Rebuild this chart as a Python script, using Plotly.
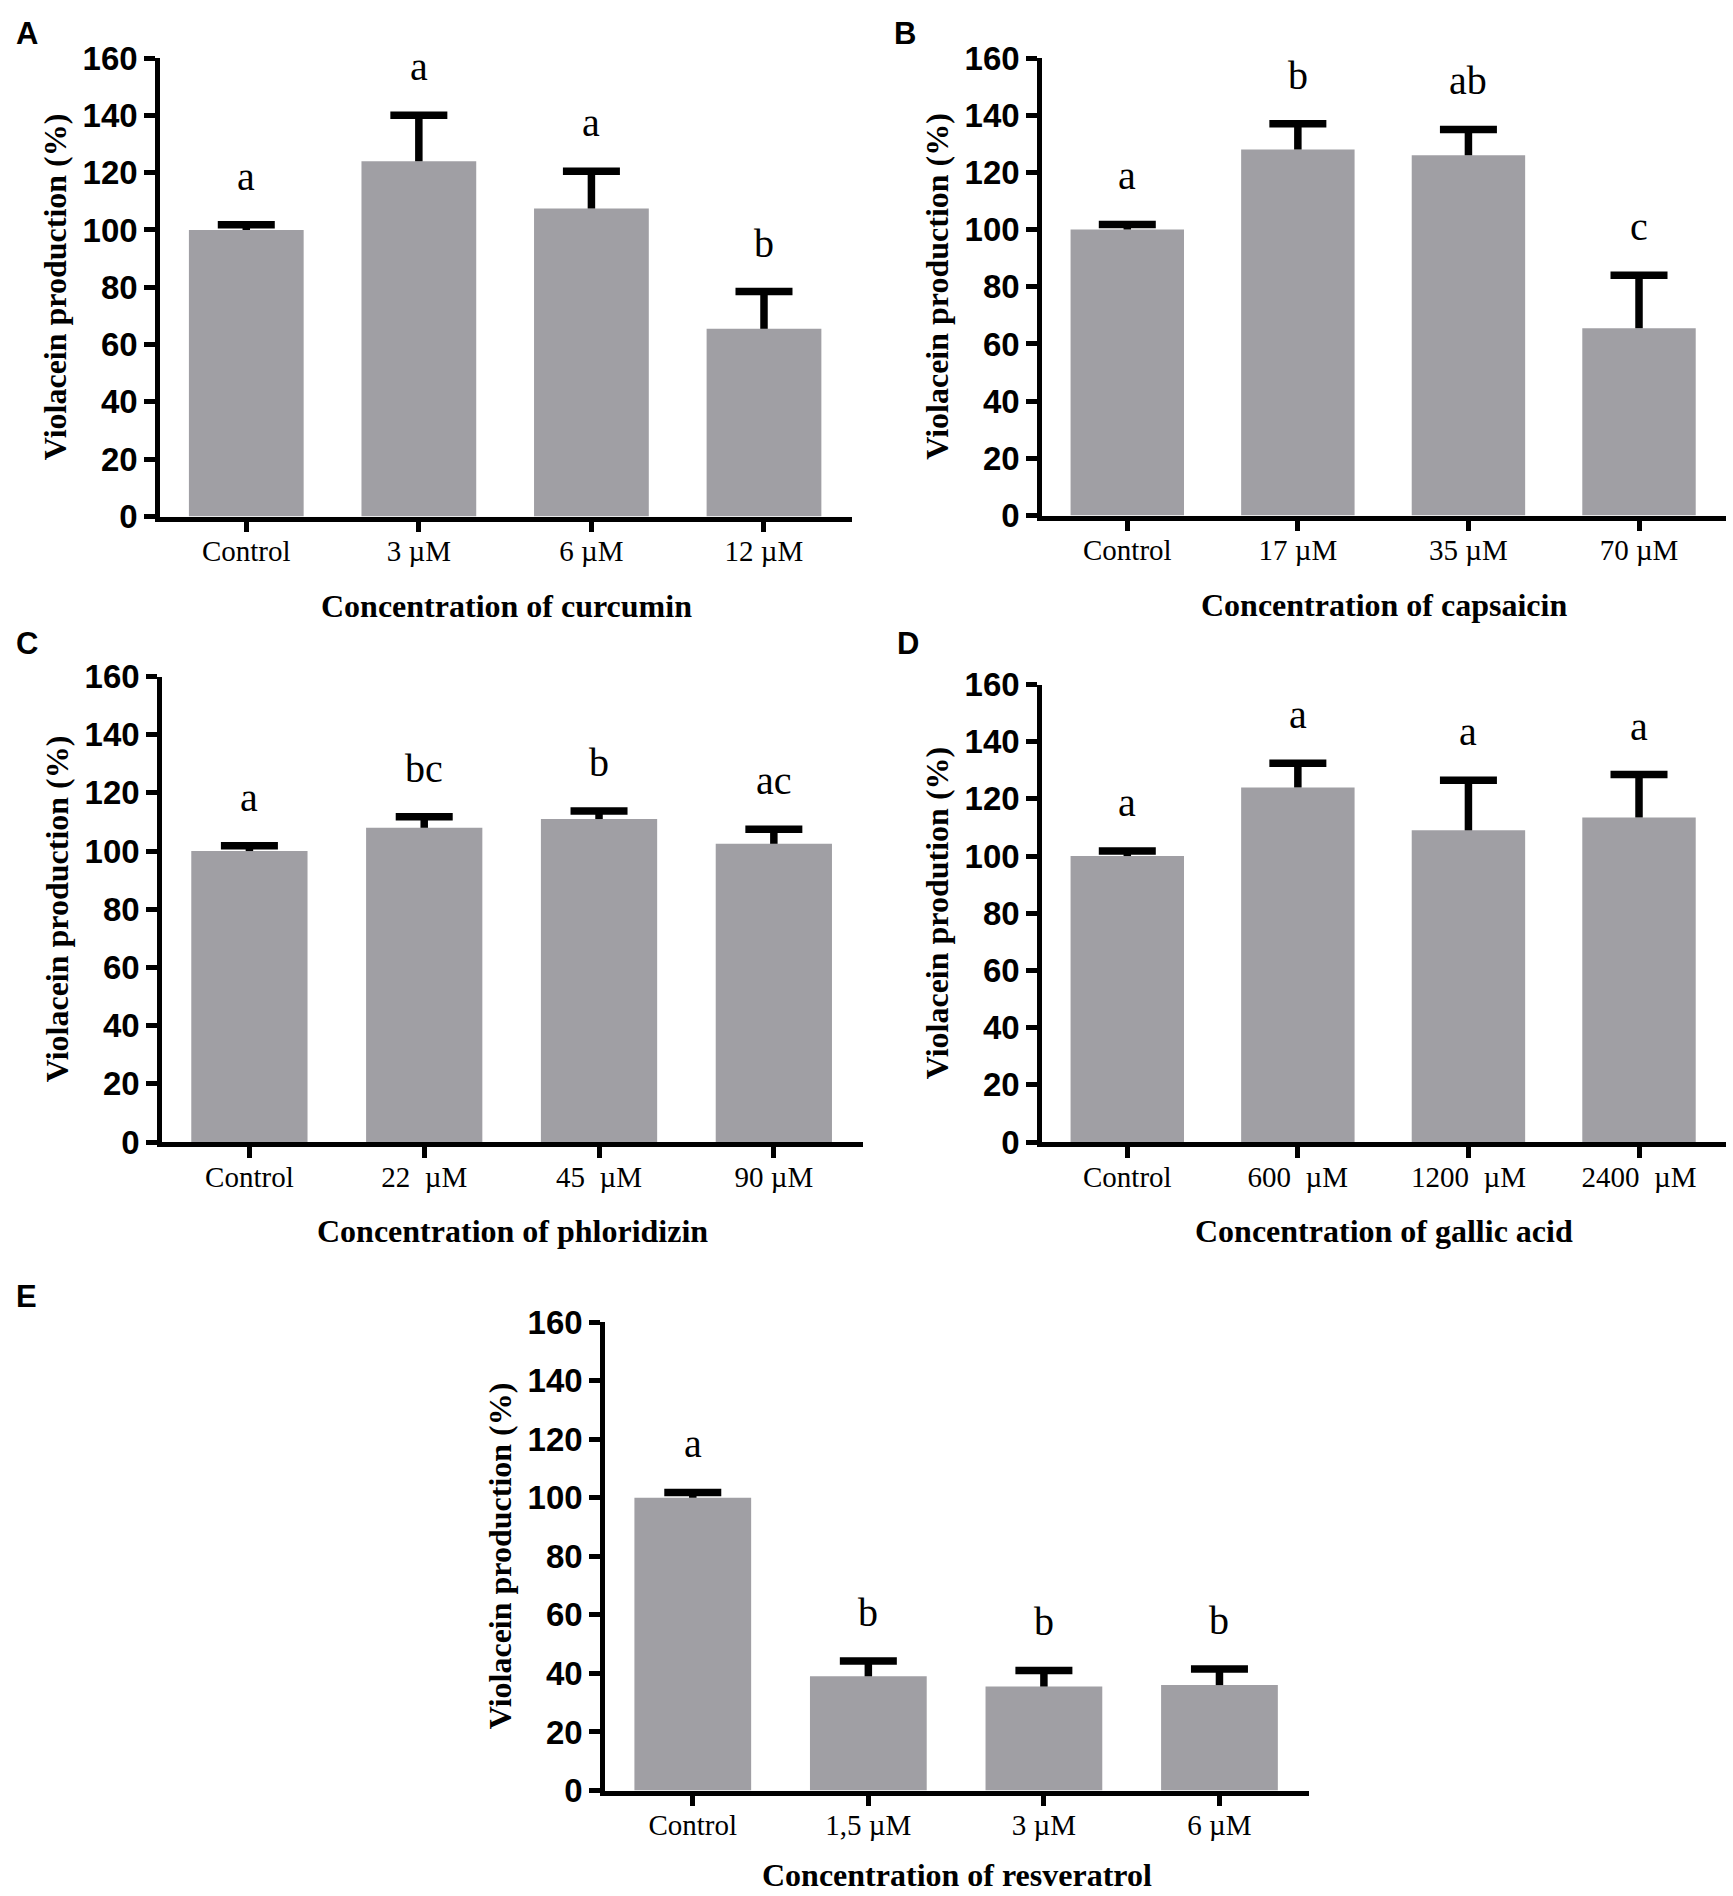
import plotly.graph_objects as go

# ---------------- data ----------------
cats_a = ["Control", "3 µM", "6 µM", "12 µM"]
vals_a = [100, 124, 107.5, 65.5]
errs_a = [1.8, 16, 13, 13]
lets_a = ["a", "a", "a", "b"]

cats_b = ["Control", "17 µM", "35 µM", "70 µM"]
vals_b = [100, 128, 126, 65.5]
errs_b = [1.8, 9, 9, 18.5]
lets_b = ["a", "b", "ab", "c"]

cats_c = ["Control", "22\u00a0 µM", "45\u00a0 µM", "90 µM"]
vals_c = [100, 108, 111, 102.5]
errs_c = [1.8, 3.8, 2.8, 5]
lets_c = ["a", "bc", "b", "ac"]

cats_d = ["Control", "600\u00a0 µM", "1200\u00a0 µM", "2400\u00a0 µM"]
vals_d = [100, 124, 109, 113.5]
errs_d = [1.8, 8.5, 17.5, 15]
lets_d = ["a", "a", "a", "a"]

cats_e = ["Control", "1,5 µM", "3 µM", "6 µM"]
vals_e = [100, 39, 35.5, 36]
errs_e = [1.8, 5.2, 5.5, 5.5]
lets_e = ["a", "b", "b", "b"]

ytitle = "Violacein production (%)"
ytitle_d = "Violacein prodution (%)"
xtitles = ["Concentration of curcumin", "Concentration of capsaicin",
           "Concentration of phloridizin", "Concentration of gallic acid",
           "Concentration of resveratrol"]
panel_tags = ["A", "B", "C", "D", "E"]

# ---------------- layout geometry (pixels) ----------------
W, H = 1733, 1896
boxes = [  # x0, x1, ytop, ybot of each plot area
    (160, 852, 58, 516.5),
    (1042, 1726, 58, 515.5),
    (162, 863, 676.5, 1142),
    (1042, 1726, 684.5, 1142),
    (605, 1309, 1322, 1790.5),
]
tag_pos = [(26.5, 33.5), (905, 34), (27, 644), (908, 644), (26, 1296)]

BAR = "#A09FA4"
SERIF = "Liberation Serif, Times New Roman, serif"
SANS = "Liberation Sans, Arial, sans-serif"
CAP_PX = 57  # cap length in pixels

panels = [
    (cats_a, vals_a, errs_a, lets_a, ytitle),
    (cats_b, vals_b, errs_b, lets_b, ytitle),
    (cats_c, vals_c, errs_c, lets_c, ytitle),
    (cats_d, vals_d, errs_d, lets_d, ytitle_d),
    (cats_e, vals_e, errs_e, lets_e, ytitle),
]

fig = go.Figure()
annotations = []
layout = {}

for i, ((cats, vals, errs, lets, yt), (x0, x1, yt_px, yb_px)) in enumerate(zip(panels, boxes)):
    n = i + 1
    xa = "x" if n == 1 else f"x{n}"
    ya = "y" if n == 1 else f"y{n}"
    xs = list(range(len(cats)))
    tops = [v + e for v, e in zip(vals, errs)]

    fig.add_trace(go.Bar(
        x=xs, y=vals, width=0.665, marker=dict(color=BAR, line=dict(width=0)),
        error_y=dict(type="data", array=errs, arrayminus=[0] * len(errs), symmetric=False,
                     thickness=7.5, width=0, color="black"),
        xaxis=xa, yaxis=ya, showlegend=False, hoverinfo="skip"))
    # caps of the error bars (line-ew marker length = 1.4 * size)
    fig.add_trace(go.Scatter(
        x=xs, y=tops, mode="markers",
        marker=dict(symbol="line-ew", size=CAP_PX / 1.4, color="black",
                    line=dict(width=7.5, color="black")),
        xaxis=xa, yaxis=ya, showlegend=False, hoverinfo="skip", cliponaxis=False))

    layout["xaxis" if n == 1 else f"xaxis{n}"] = dict(
        domain=[x0 / W, x1 / W], anchor=ya, range=[-0.5, 3.51], automargin=False,
        tickmode="array", tickvals=xs, ticktext=cats,
        ticks="outside", ticklen=11, tickwidth=5, tickcolor="black",
        ticklabelstandoff=-6,
        showline=True, linewidth=4.5, linecolor="black",
        showgrid=False, zeroline=False, fixedrange=True,
        tickfont=dict(family=SERIF, size=29, color="black"))
    layout["yaxis" if n == 1 else f"yaxis{n}"] = dict(
        domain=[1 - yb_px / H, 1 - yt_px / H], anchor=xa, range=[0, 160], automargin=False,
        tick0=0, dtick=20, ticks="outside", ticklen=11, tickwidth=4.5, tickcolor="black",
        showline=True, linewidth=4.5, linecolor="black",
        showgrid=False, zeroline=False, fixedrange=True,
        tickfont=dict(family=SANS, size=33, color="black", weight="bold"))

    # significance letters
    for x, t, lab in zip(xs, tops, lets):
        annotations.append(dict(
            x=x, y=t, xref=xa, yref=ya, text=lab, showarrow=False,
            yanchor="bottom", xanchor="center", yshift=24,
            font=dict(family=SERIF, size=40, color="black")))

    # x title (kept inside the page at the bottom edge)
    ty_px = min(yb_px + 89, H - 21)
    annotations.append(dict(
        x=(x0 + x1) / 2 / W, y=1 - ty_px / H, xref="paper", yref="paper",
        text=xtitles[i], showarrow=False, xanchor="center", yanchor="middle",
        font=dict(family=SERIF, size=32, color="black", weight="bold")))
    # y title
    annotations.append(dict(
        x=(x0 - 105) / W, y=1 - (yt_px + yb_px) / 2 / H, xref="paper", yref="paper",
        text=yt, showarrow=False, textangle=-90, xanchor="center", yanchor="middle",
        font=dict(family=SERIF, size=32, color="black", weight="bold")))
    # panel tag
    tx, ty = tag_pos[i]
    annotations.append(dict(
        x=tx / W, y=1 - ty / H, xref="paper", yref="paper", text=panel_tags[i],
        showarrow=False, xanchor="center", yanchor="middle",
        font=dict(family=SANS, size=31, color="black", weight="bold")))

fig.update_layout(
    width=W, height=H, margin=dict(l=0, r=0, t=0, b=0, autoexpand=False),
    paper_bgcolor="white", plot_bgcolor="white",
    annotations=annotations, bargap=0.3, **layout)

fig.write_html(
    "out.html",
    config={"displayModeBar": False},
    post_script="document.body.style.margin='0';document.body.style.overflow='hidden';")
